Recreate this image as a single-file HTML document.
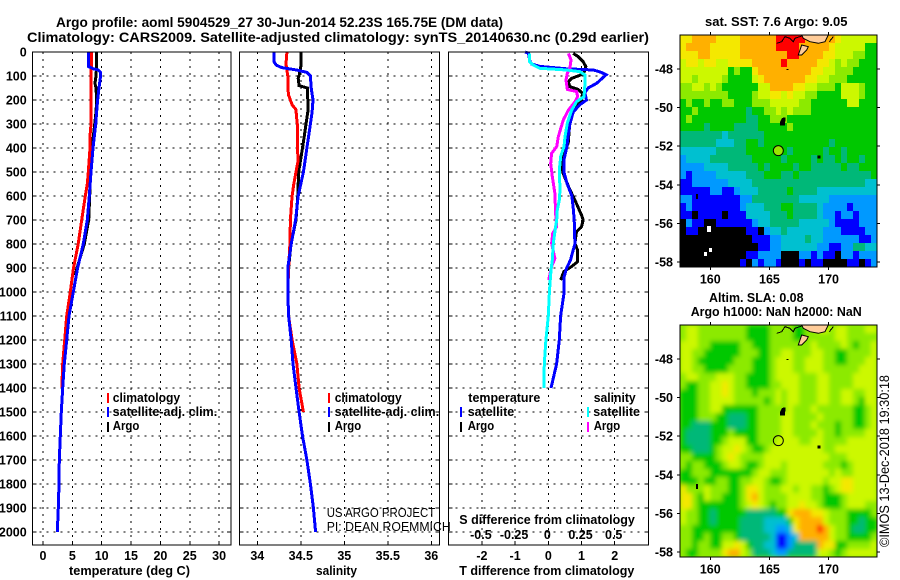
<!DOCTYPE html>
<html lang="en">
<head>
<meta charset="utf-8">
<title>Argo profile chart</title>
<style>
html,body{margin:0;padding:0;background:#fff;}
svg{display:block;}
text{font-family:"Liberation Sans",sans-serif;fill:#000;}
.t{font-size:13.5px;font-weight:bold;}
.l{font-size:12.5px;font-weight:bold;}
.r{font-size:12.5px;font-weight:normal;}
.s{font-size:13.5px;font-weight:normal;}
</style>
</head>
<body>
<svg id="chart" xmlns="http://www.w3.org/2000/svg" width="900" height="580" viewBox="0 0 900 580">
<defs>
<filter id="smooth" x="0" y="0" width="100%" height="100%"><feGaussianBlur stdDeviation="2.4"/></filter>
<clipPath id="sla-clip"><rect x="680" y="325" width="197" height="232"/></clipPath>
</defs>
<rect x="0" y="0" width="900" height="580" fill="#fff"/>
<text class="t" x="56" y="27" textLength="447" lengthAdjust="spacingAndGlyphs">Argo profile: aoml 5904529_27 30-Jun-2014 52.23S 165.75E (DM data)</text>
<text class="t" x="27" y="42" textLength="622" lengthAdjust="spacingAndGlyphs">Climatology: CARS2009. Satellite-adjusted climatology: synTS_20140630.nc (0.29d earlier)</text>

<g id="maps"></g>
<g id="plots"></g>

<text class="l" x="69" y="575" textLength="121" lengthAdjust="spacingAndGlyphs">temperature (deg C)</text>
<text class="l" x="316" y="575" textLength="41" lengthAdjust="spacingAndGlyphs">salinity</text>
<text class="l" x="459.3" y="575" textLength="175" lengthAdjust="spacingAndGlyphs">T difference from climatology</text>
<text class="l" x="459.3" y="524" textLength="175.5" lengthAdjust="spacingAndGlyphs">S difference from climatology</text>

<g>
<rect x="107" y="393" width="2" height="10" fill="#f00"/>
<rect x="107" y="407" width="2" height="10" fill="#00f"/>
<rect x="107" y="422" width="2" height="10" fill="#000"/>
<text class="l" x="112.7" y="402" textLength="67.5" lengthAdjust="spacingAndGlyphs">climatology</text>
<text class="l" x="112.7" y="416" textLength="104.5" lengthAdjust="spacingAndGlyphs">satellite-adj. clim.</text>
<text class="l" x="112.7" y="430" textLength="26.7" lengthAdjust="spacingAndGlyphs">Argo</text>
</g>
<g>
<rect x="328" y="393" width="2" height="10" fill="#f00"/>
<rect x="328" y="407" width="2" height="10" fill="#00f"/>
<rect x="328" y="422" width="2" height="10" fill="#000"/>
<text class="l" x="334.7" y="402" textLength="67" lengthAdjust="spacingAndGlyphs">climatology</text>
<text class="l" x="334.7" y="416" textLength="104.5" lengthAdjust="spacingAndGlyphs">satellite-adj. clim.</text>
<text class="l" x="334.7" y="430" textLength="26.5" lengthAdjust="spacingAndGlyphs">Argo</text>
</g>
<g>
<text class="r" x="326.7" y="517" textLength="108.5" lengthAdjust="spacingAndGlyphs">US ARGO PROJECT</text>
<text class="r" x="326.7" y="531" textLength="124" lengthAdjust="spacingAndGlyphs">PI: DEAN ROEMMICH</text>
</g>
<g>
<text class="l" x="468.3" y="402" textLength="72" lengthAdjust="spacingAndGlyphs">temperature</text>
<rect x="460" y="407" width="2" height="10" fill="#00f"/>
<rect x="460" y="422" width="2" height="10" fill="#000"/>
<text class="l" x="467.7" y="416" textLength="46.5" lengthAdjust="spacingAndGlyphs">satellite</text>
<text class="l" x="467.7" y="430" textLength="26.5" lengthAdjust="spacingAndGlyphs">Argo</text>
<text class="l" x="593.7" y="402" textLength="42" lengthAdjust="spacingAndGlyphs">salinity</text>
<rect x="587" y="407" width="2" height="10" fill="#0ff"/>
<rect x="587" y="422" width="2" height="10" fill="#f0f"/>
<text class="l" x="593.3" y="416" textLength="46.7" lengthAdjust="spacingAndGlyphs">satellite</text>
<text class="l" x="593.7" y="430" textLength="26.5" lengthAdjust="spacingAndGlyphs">Argo</text>
</g>

<text class="l" x="705" y="26" textLength="142.5" lengthAdjust="spacingAndGlyphs">sat. SST: 7.6 Argo: 9.05</text>
<text class="l" x="709" y="302" textLength="94.5" lengthAdjust="spacingAndGlyphs">Altim. SLA: 0.08</text>
<text class="l" x="690.7" y="316" textLength="171" lengthAdjust="spacingAndGlyphs">Argo h1000: NaN h2000: NaN</text>
<text class="s" transform="translate(889,547) rotate(-90)" x="0" y="0" textLength="172" lengthAdjust="spacingAndGlyphs">©IMOS 13-Dec-2018 19:30:18</text>
</svg>

<script>
// ---- Profile data (depth in m) ----
const depthTicks = [0,100,200,300,400,500,600,700,800,900,1000,1100,1200,1300,1400,1500,1600,1700,1800,1900,2000];
const tempTicks = [0,5,10,15,20,25,30];
const salTicks = ['34','34.5','35','35.5','36'];
const tDiffTicks = [-2,-1,0,1,2];
const sDiffTicks = ['-0.5','-0.25','0','0.25','0.5'];
const lonTicks = [160,165,170];
const latTicks = [-48,-50,-52,-54,-56,-58];

const tempSatDepth = [0,60,70,75,85,100,150,200,300,400,500,600,700,800,900,1000,1100,1200,1300,1400,1500,1600,1700,1800,1900,2000];
const tempSat = [7.72,7.72,8.57,9.42,9.82,9.82,9.54,9.31,8.97,8.52,8.18,7.89,7.55,6.87,5.9,5.17,4.43,4.03,3.63,3.35,3.12,2.95,2.78,2.73,2.6,2.44];
const tempClimDepth = [0,100,200,300,350,400,500,550,600,700,800,900,1000,1100,1200,1300,1400];
const tempClim = [8.3,8.18,8.2,8.18,8.0,8.0,7.72,7.55,7.2,6.6,6.0,5.2,4.65,4.03,3.7,3.35,3.2];
const tempArgoDepth = [0,50,100,130,150,200,250,300,400,500,600,700,800,900,930];
const tempArgo = [9.15,9.15,9.03,8.86,9.03,9.15,9.03,8.8,8.35,8.12,7.95,7.78,7.04,5.8,5.5];

const salSatDepth = [0,40,55,65,75,85,100,150,200,250,300,400,500,600,700,800,900,1000,1100,1200,1300,1400,1500,1600,1700,1800,1900,2000];
const salSat = [34.19,34.19,34.22,34.28,34.45,34.57,34.61,34.62,34.64,34.63,34.61,34.57,34.53,34.47,34.44,34.39,34.35,34.35,34.36,34.39,34.41,34.445,34.48,34.52,34.57,34.61,34.645,34.67];
const salClimDepth = [0,50,100,150,180,200,220,240,270,300,400,450,500,550,600,650,700,800,900,1000,1100,1200,1300,1400,1500];
const salClim = [34.34,34.33,34.35,34.35,34.36,34.38,34.40,34.445,34.45,34.46,34.46,34.47,34.445,34.42,34.40,34.39,34.38,34.375,34.36,34.35,34.36,34.40,34.455,34.48,34.53];
const salArgoDepth = [0,60,100,110,140,150,200,250,300,350,400,500,600,700,800,900,930];
const salArgo = [34.50,34.50,34.48,34.47,34.48,34.575,34.58,34.58,34.56,34.54,34.52,34.475,34.465,34.445,34.387,34.36,34.355];

const diffTSatDepth = [0,5,40,50,60,70,75,85,95,105,130,150,170,200,220,250,300,350,400,450,500,550,600,650,700,800,825,867,900,936,1000,1100,1200,1300,1400];
const diffTSat = [-.7,-.6,-.55,-.5,-.25,.55,1.36,1.6,1.74,1.66,1.46,1.2,1.1,1.15,.95,.75,.65,.6,.55,.47,.47,.57,.71,.75,.78,.8,.75,.67,.55,.48,.48,.37,.33,.25,.08];
const diffTArgoDepth = [6,19,40,61,75,86,97,110,125,144,156,172,200,228,269,325,381,415,464,506,568,617,679,700,728,749,797,825,874,894,915,950];
const diffTArgo = [.75,.9,1.05,1.13,1.11,1.07,.95,.7,.6,.65,.9,1.03,1.0,.8,.67,.63,.6,.47,.4,.45,.63,.8,1.0,1.05,1.0,.85,.8,.88,.88,.7,.47,.37];
const diffSSatDepth = [6,40,54,68,75,82,96,131,186,207,242,297,353,394,436,492,575,617,658,700,728,797,867,908,1000,1100,1200,1300,1400];
const diffSSat = [-.143,-.143,-.113,-.063,.138,.238,.276,.276,.269,.213,.176,.143,.126,.118,.093,.083,.088,.083,.068,.063,.055,.038,.03,.02,.008,0,-.018,-.03,-.033];
const diffSArgoDepth = [6,33,68,89,117,156,165,186,207,242,283,353,394,422,464,519,589,672,728,756,797,860,894,950];
const diffSArgo = [.151,.171,.163,.143,.133,.143,.213,.221,.201,.151,.113,.075,.063,.025,.018,.03,.05,.055,.063,.033,.025,.05,.025,.003];

// ---- Map data: one character per cell, colour level (spaces are only visual separators) ----
const levelColors = {k:'#000000','0':'#0000ff','1':'#0099ff','2':'#00c0d0','3':'#00b878','4':'#00c800','5':'#8cea00','6':'#ccf800','7':'#f4e800','8':'#ffb000','9':'#ff0000'};
const sstRows = [
"7788887777 888888 99999 88888 7 666666",
"7888877777 888888 99998 88887 6 666644",
"7778877777 888888 88998 88877 6 665544",
"6776776677 778888 89888 88776 5 655444",
"6666666645 447888 88888 87766 5 554444",
"6656666544 446788 88888 77665 5 544444",
"5566565444 444668 88877 66555 4 666544",
"5555555544 445667 76766 55444 4 666544",
"4544544554 445556 66665 54444 4 466444",
"4454444444 434455 65655 54444 4 444444",
"4544444444 433445 55444 44444 4 444444",
"4444344443 333444 44544 44444 4 444444",
"3333333233 333344 44444 44444 4 444444",
"3333332223 344344 44444 44443 4 444444",
"2222223333 344444 44344 44434 4 344444",
"1222233333 334444 43444 43433 4 344344",
"1111222233 333434 44434 43333 3 433444",
"1011112222 233344 43343 33333 3 333334",
"0011111122 223333 33333 33333 3 333322",
"0000011001 222333 33433 33222 2 222222",
"1100000000 113333 33332 22221 1 111111",
"0100000000 122233 34433 33211 1 101111",
"00k0000k00 022223 33433 33211 0 110111",
"k100kk0000 001223 33332 22221 0 000111",
"k00kkkkkkk k00k12 23222 22211 1 000011",
"kkkkkkkkkk kk0001 12222 32211 1 111001",
"kkkkkkkkkk kkk001 12222 22110 0 113322",
"kkkkkkkkkk k00111 1kkk1 10100 k 110111",
"kkkkkkkkkk 0k1011 0kkk0 k00kk k k00k01"
];
const slaRows = [
"5665555555 544445 55544 55665 6 655566",
"5665555555 544445 55544 55555 6 655555",
"6665544444 554445 55555 56555 5 654556",
"6655444444 555445 56655 56655 4 455556",
"6654444445 554445 66655 66655 4 455566",
"6655444455 554445 66655 66655 5 555666",
"5665556665 544445 66665 55665 5 556666",
"5445566765 544445 56665 55665 5 556666",
"4445566765 554555 65665 55665 5 665566",
"4445566665 555545 65665 55665 5 665466",
"4445566444 444555 55655 56555 5 554456",
"4445554433 344555 56655 55655 5 554456",
"4433344433 344555 56655 56555 4 554456",
"4333344454 444555 56655 55655 4 555566",
"4333344566 644555 66665 56655 5 566666",
"4433345667 654456 66666 66655 6 666666",
"5544445676 555566 66666 66665 5 566666",
"5455444566 544566 65666 66655 5 456666",
"4455544444 445665 55666 66665 6 556666",
"4445445544 556654 45666 66656 6 776666",
"7555655544 577655 56656 65545 6 776666",
"7754655444 578655 55666 65544 4 566666",
"7754444444 567654 55667 66544 4 566655",
"6554434444 433333 44788 87765 5 544445",
"6554434444 333322 22478 88865 5 544344",
"5544444444 333322 11278 88986 5 543344",
"5544544554 333332 00128 88886 5 544445",
"5545544667 643322 00133 33877 4 455556",
"5445555788 653332 11333 33665 4 566666"
];

// ---- Drawing ----
const SVG_NS = 'http://www.w3.org/2000/svg';
const plots = document.getElementById('plots');
const maps = document.getElementById('maps');
const depthY = d => 52 + 0.24 * d;
const tempX = t => 43 + 5.87 * t;
const salX = s => 257.3 + 87 * (s - 34);
const diffTX = v => 548.3 + 33.2 * v;
const diffSX = v => 548.3 + 132.8 * v;
const lonX = lon => 710.3 + (lon - 160) * 11.83;
const latY = (lat, top) => top + 34 + (-48 - lat) * 19.3;

function shape(parent, tag, attrs) {
  const el = document.createElementNS(SVG_NS, tag);
  for (const k in attrs) el.setAttribute(k, attrs[k]);
  parent.appendChild(el);
  return el;
}
function label(parent, x, y, str, anchor, name) {
  const el = shape(parent, 'text', {x: x, y: y, 'text-anchor': anchor, class: 'l'});
  el.textContent = str;
  
  
  return el;
}
function curve(parent, depths, values, xFn, color, width, name) {
  const pts = depths.map((d, i) => xFn(values[i]).toFixed(1) + ',' + depthY(d).toFixed(1)).join(' ');
  const el = shape(parent, 'polyline', {points: pts, fill: 'none', stroke: color, 'stroke-width': width, 'shape-rendering': 'crispEdges'});
  
  
}
function panel(x0, x1, xTicks, xFn) {
  const top = 52, bottom = 545;
  const g = shape(plots, 'g', {});
  
  
  depthTicks.forEach(d => {
    const y = depthY(d);
    const gl = shape(g, 'line', {x1: x0, x2: x1, y1: y, y2: y, stroke: '#000', 'stroke-dasharray': '2 5', 'shape-rendering': 'crispEdges'});
    
    
    const t1 = shape(g, 'line', {x1: x0, x2: x0 + 4, y1: y, y2: y, stroke: '#000', 'shape-rendering': 'crispEdges'});
    
    
    const t2 = shape(g, 'line', {x1: x1 - 4, x2: x1, y1: y, y2: y, stroke: '#000', 'shape-rendering': 'crispEdges'});
    
    
  });
  xTicks.forEach(v => {
    const x = xFn(Number(v));
    const gl = shape(g, 'line', {x1: x, x2: x, y1: top, y2: bottom, stroke: '#000', 'stroke-dasharray': '2 5', 'shape-rendering': 'crispEdges'});
    
    
    const t = shape(g, 'line', {x1: x, x2: x, y1: bottom - 4, y2: bottom, stroke: '#000', 'shape-rendering': 'crispEdges'});
    
    
    label(g, x, 560, String(v), 'middle', 'x-tick-label');
  });
  return g;
}
function frame(g, x0, x1) {
  const r = shape(g, 'rect', {x: x0, y: 52, width: x1 - x0, height: 493, fill: 'none', stroke: '#000', 'stroke-width': 1, 'shape-rendering': 'crispEdges'});
  
  
}

// temperature panel
const p1 = panel(32.5, 231, tempTicks, tempX);
depthTicks.forEach(d => label(p1, 26.7, depthY(d) + 4.5, String(d), 'end', 'depth-tick-label'));
curve(p1, tempArgoDepth, tempArgo, tempX, '#000', 3, 'temperature-argo-line');
curve(p1, tempClimDepth, tempClim, tempX, '#f00', 3, 'temperature-climatology-line');
curve(p1, tempSatDepth, tempSat, tempX, '#00f', 3, 'temperature-satellite-line');
frame(p1, 32.5, 231);

// salinity panel
const p2 = panel(239.5, 439.5, salTicks, salX);
curve(p2, salArgoDepth, salArgo, salX, '#000', 3, 'salinity-argo-line');
curve(p2, salClimDepth, salClim, salX, '#f00', 3, 'salinity-climatology-line');
curve(p2, salSatDepth, salSat, salX, '#00f', 3, 'salinity-satellite-line');
frame(p2, 239.5, 439.5);

// difference panel
const p3 = panel(448.5, 648.5, tDiffTicks, diffTX);
sDiffTicks.forEach(v => label(p3, diffSX(Number(v)) - 1, 539, v, 'middle', 's-difference-tick-label'));
curve(p3, diffTArgoDepth, diffTArgo, diffTX, '#000', 3, 'difference-t-argo-line');
curve(p3, diffTSatDepth, diffTSat, diffTX, '#00f', 3, 'difference-t-satellite-line');
curve(p3, diffSArgoDepth, diffSArgo, diffSX, '#f0f', 3, 'difference-s-argo-line');
curve(p3, diffSSatDepth, diffSSat, diffSX, '#0ff', 3, 'difference-s-satellite-line');
frame(p3, 448.5, 648.5);

// maps
function drawMap(rowStrings, top, cellName, frameName, smooth) {
  const rows = rowStrings.map(r => r.replace(/ /g, ''));
  const left = 680, right = 877, width = right - left, height = 232;
  const g = shape(maps, 'g', {'shape-rendering': 'crispEdges'});
  
  
  const clip = shape(g, 'g', smooth ? {'clip-path': 'url(#sla-clip)'} : {});
  
  
  const under = shape(clip, 'rect', {x: left, y: top, width: width, height: height, fill: levelColors['5']});
  
  
  const field = shape(clip, 'g', smooth ? {filter: 'url(#smooth)'} : {});
  
  
  rows.forEach((row, i) => {
    const y0 = Math.round(top + i * height / rows.length);
    const y1 = Math.round(top + (i + 1) * height / rows.length);
    for (let j = 0; j < row.length; j++) {
      const x0 = Math.round(left + j * width / row.length);
      const x1 = Math.round(left + (j + 1) * width / row.length);
      const c = shape(field, 'rect', {x: x0, y: y0, width: x1 - x0, height: y1 - y0, fill: levelColors[row[j]]});
      
      
    }
  });
  // coastlines
  const dy = top - 35;
  const land1 = shape(g, 'polygon', {points: '801.7,35 803.3,38.3 810,41.7 818.3,43.3 825,41.7 828.3,35', fill: '#ffcc99', stroke: '#000', transform: 'translate(0,' + dy + ')', 'shape-rendering': 'auto'});
  
  
  const land2 = shape(g, 'polygon', {points: '801.7,45 808.3,46.7 806.7,50 801.7,55 798.3,55 800,50', fill: '#ffcc99', stroke: '#000', transform: 'translate(0,' + dy + ')', 'shape-rendering': 'auto'});
  
  
  const c1 = shape(g, 'polyline', {points: '776.7,43.3 781.7,41.7 785,36.7 790,38.3 793.3,41.7 795,38.3 801.7,36', fill: 'none', stroke: '#000', transform: 'translate(0,' + dy + ')'});
  
  
  const c2 = shape(g, 'polyline', {points: '833.3,36.7 829.3,41.7', fill: 'none', stroke: '#000', transform: 'translate(0,' + dy + ')'});
  
  
  const isl = shape(g, 'polygon', {points: '780,122 782,118 785.5,117.3 785,125.5 780,125.5', fill: '#000', transform: 'translate(0,' + dy + ')'});
  
  
  const isl2 = shape(g, 'rect', {x: 817.5, y: 155.5, width: 3, height: 3, fill: '#000', transform: 'translate(0,' + dy + ')'});
  
  
  const isl3 = shape(g, 'rect', {x: 786.5, y: 69, width: 2, height: 1, fill: '#000', transform: 'translate(0,' + dy + ')'});
  
  
  const isl4 = shape(g, 'rect', {x: 696, y: 194, width: 2, height: 5, fill: '#000', transform: 'translate(0,' + dy + ')'});
  
  
  // axes
  const f = shape(g, 'rect', {x: left, y: top, width: width, height: height, fill: 'none', stroke: '#000'});
  
  
  lonTicks.forEach(lon => {
    const x = lonX(lon);
    const t1 = shape(g, 'line', {x1: x, x2: x, y1: top - 3, y2: top, stroke: '#000'});
    
    
    const t2 = shape(g, 'line', {x1: x, x2: x, y1: top + height, y2: top + height + 3, stroke: '#000'});
    
    
    label(g, x, top + height + 16.5, String(lon), 'middle', 'longitude-label');
  });
  latTicks.forEach(lat => {
    const y = latY(lat, top);
    const t1 = shape(g, 'line', {x1: left - 3, x2: left, y1: y, y2: y, stroke: '#000'});
    
    
    const t2 = shape(g, 'line', {x1: right, x2: right + 3, y1: y, y2: y, stroke: '#000'});
    
    
    label(g, 673, y + 4.5, String(lat), 'end', 'latitude-label');
  });
  return g;
}
const profileLon = 165.75;
const profileLat = -52.23;
const sstTop = 35;
const slaTop = 325;
const sstMap = drawMap(sstRows, sstTop, 'sst-cell', 'sst-map', false);
const slaMap = drawMap(slaRows, slaTop, 'sla-cell', 'sla-map', true);
const sstMark = shape(sstMap, 'circle', {cx: lonX(profileLon), cy: latY(profileLat, sstTop), r: 5, fill: '#99e600', stroke: '#000', 'shape-rendering': 'auto'});


const slaMark = shape(slaMap, 'circle', {cx: lonX(profileLon), cy: latY(profileLat, slaTop), r: 5, fill: 'none', stroke: '#000', 'shape-rendering': 'auto'});


const gap1 = shape(sstMap, 'rect', {x: 707, y: 226, width: 4, height: 6, fill: '#fff'});


const gap2 = shape(sstMap, 'rect', {x: 709, y: 248, width: 3, height: 4, fill: '#fff'});


const gap3 = shape(sstMap, 'rect', {x: 704, y: 252, width: 3, height: 4, fill: '#fff'});


</script>
</body>
</html>
